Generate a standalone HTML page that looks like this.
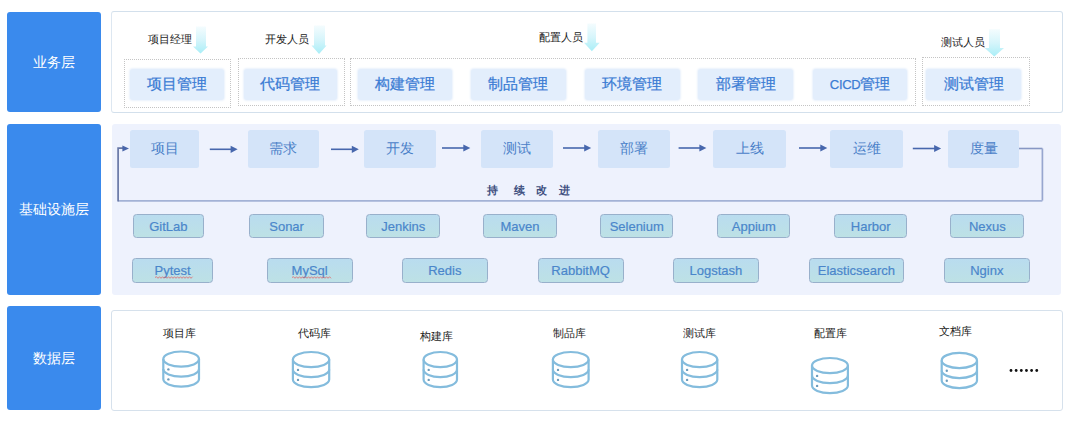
<!DOCTYPE html>
<html><head><meta charset="utf-8"><style>
*{margin:0;padding:0;box-sizing:border-box}
html,body{width:1080px;height:425px;overflow:hidden;background:#fff;font-family:"Liberation Sans", sans-serif}
.layer{position:absolute;left:7px;width:94px;background:#3a8aed;border-radius:3px;color:#fff;font-size:14px;text-align:center}
.p1{position:absolute;left:111px;top:11px;width:952px;height:102px;border:1px solid #d3e0ec;border-left-color:#dde7f1;border-radius:3px;background:#fff}
.p2{position:absolute;left:112px;top:123.5px;width:949px;height:171.5px;background:#eef2fd;border-radius:3px}
.p3{position:absolute;left:111px;top:310px;width:952px;height:101px;border:1px solid #d6e1ec;border-radius:3px;background:#fff}
.dot{position:absolute;border:1px dotted #c4c4c4}
.ib{position:absolute;top:69px;height:30.5px;line-height:30.5px;background:#e3eefc;box-shadow:0 0 2px 1px #eaf2fc;border-radius:3px;color:#3b7cd4;-webkit-text-stroke:0.25px #3b7cd4;font-size:14.5px;text-align:center}
.lab{position:absolute;font-size:11px;line-height:11px;color:#1a1a1a;white-space:nowrap}
.pb{position:absolute;top:129.8px;height:37.8px;line-height:37.8px;background:#d4e4f9;border-radius:2.5px;color:#4a80c8;font-size:14px;text-align:center}
.tb{position:absolute;background:linear-gradient(#b9dcef,#bde1e5);border:1.6px solid #98b0cb;border-radius:3.5px;color:#4a86cb;font-size:13px;-webkit-text-stroke:0.2px #4a86cb;padding-top:1px;text-align:center;display:flex;align-items:center;justify-content:center}
.cx{position:absolute;top:185px;font-size:10.5px;line-height:11px;font-weight:bold;color:#3d4f80}
svg{position:absolute;left:0;top:0}
</style></head><body>
<div class="layer" style="top:12px;height:100.3px;line-height:100.3px">业务层</div>
<div class="layer" style="top:124.3px;height:170.9px;line-height:170.9px">基础设施层</div>
<div class="layer" style="top:305.7px;height:104.5px;line-height:104.5px">数据层</div>
<div class="p1"></div>
<div class="p2"></div>
<div class="p3"></div>
<div class="dot" style="left:124px;top:59px;width:107px;height:49px"></div>
<div class="dot" style="left:238px;top:58px;width:107px;height:48px"></div>
<div class="dot" style="left:350px;top:58px;width:566px;height:48px"></div>
<div class="dot" style="left:922px;top:57px;width:108px;height:49px"></div>
<div class="ib" style="left:130px;width:93.8px">项目管理</div>
<div class="ib" style="left:243.6px;width:93.6px">代码管理</div>
<div class="ib" style="left:358.3px;width:93.9px">构建管理</div>
<div class="ib" style="left:471.1px;width:94.5px">制品管理</div>
<div class="ib" style="left:584.7px;width:95.3px">环境管理</div>
<div class="ib" style="left:697.8px;width:95.5px">部署管理</div>
<div class="ib" style="left:812.8px;width:94.7px"><span style="font-size:13px;letter-spacing:-0.3px">CICD</span>管理</div>
<div class="ib" style="left:926.1px;width:95.0px">测试管理</div>
<div class="lab" style="left:148px;top:34px">项目经理</div>
<div class="lab" style="left:265px;top:34px">开发人员</div>
<div class="lab" style="left:539px;top:32px">配置人员</div>
<div class="lab" style="left:941px;top:37px">测试人员</div>
<div class="pb" style="left:130.2px;width:68.7px">项目</div>
<div class="pb" style="left:248px;width:70.9px">需求</div>
<div class="pb" style="left:364.2px;width:71.6px">开发</div>
<div class="pb" style="left:480.8px;width:72.0px">测试</div>
<div class="pb" style="left:597.8px;width:71.9px">部署</div>
<div class="pb" style="left:713.3px;width:72.8px">上线</div>
<div class="pb" style="left:830px;width:73.3px">运维</div>
<div class="pb" style="left:947.8px;width:71.6px">度量</div>
<div class="lab" style="left:163px;top:327.5px">项目库</div>
<div class="lab" style="left:298px;top:327.5px">代码库</div>
<div class="lab" style="left:420px;top:330.5px">构建库</div>
<div class="lab" style="left:553px;top:327.5px">制品库</div>
<div class="lab" style="left:683px;top:327.5px">测试库</div>
<div class="lab" style="left:814px;top:327.5px">配置库</div>
<div class="lab" style="left:939px;top:325.5px">文档库</div>
<div class="tb" style="left:133.0px;top:214px;width:70.6px;height:24.4px">GitLab</div>
<div class="tb" style="left:249.4px;top:214px;width:74.4px;height:24.4px">Sonar</div>
<div class="tb" style="left:366.3px;top:214px;width:73.9px;height:24.4px">Jenkins</div>
<div class="tb" style="left:483.0px;top:214px;width:73.9px;height:24.4px">Maven</div>
<div class="tb" style="left:600.2px;top:214px;width:73.1px;height:24.4px">Selenium</div>
<div class="tb" style="left:717.2px;top:214px;width:73.3px;height:24.4px">Appium</div>
<div class="tb" style="left:834.0px;top:214px;width:73.4px;height:24.4px">Harbor</div>
<div class="tb" style="left:950.4px;top:214px;width:73.9px;height:24.4px">Nexus</div>
<div class="tb" style="left:131.6px;top:257.5px;width:81.9px;height:25px">Pytest</div>
<div class="tb" style="left:266.6px;top:257.5px;width:86.1px;height:25px">MySql</div>
<div class="tb" style="left:402.0px;top:257.5px;width:85.7px;height:25px">Redis</div>
<div class="tb" style="left:537.5px;top:257.5px;width:86.2px;height:25px">RabbitMQ</div>
<div class="tb" style="left:673.0px;top:257.5px;width:85.7px;height:25px">Logstash</div>
<div class="tb" style="left:808.5px;top:257.5px;width:95.8px;height:25px">Elasticsearch</div>
<div class="tb" style="left:944.0px;top:257.5px;width:85.6px;height:25px">Nginx</div>
<div class="cx" style="left:486.5px">持</div>
<div class="cx" style="left:513.5px">续</div>
<div class="cx" style="left:536px">改</div>
<div class="cx" style="left:559px">进</div>
<svg width="1080" height="425" viewBox="0 0 1080 425"><defs><linearGradient id="cg" x1="0" y1="0" x2="0" y2="1"><stop offset="0" stop-color="#f4fcfe"/><stop offset="0.5" stop-color="#d6f5fb"/><stop offset="1" stop-color="#a9eef7"/></linearGradient></defs><path d="M196 26.6 L206 26.6 L206 46.4 L208 46.4 L200.5 53.4 L193 46.4 L196 46.4 Z" fill="url(#cg)"/><path d="M314 25.6 L325 25.6 L325 45.4 L326.6 45.4 L319.05 53.9 L311.5 45.4 L314 45.4 Z" fill="url(#cg)"/><path d="M587.4 23.5 L596 23.5 L596 42.8 L599.7 42.8 L591.85 51.3 L584 42.8 L587.4 42.8 Z" fill="url(#cg)"/><path d="M989 29.2 L1000 29.2 L1000 48 L1004 48 L994.3 56.5 L984.6 48 L989 48 Z" fill="url(#cg)"/><line x1="209.8" y1="149.3" x2="231.6" y2="149.3" stroke="#4767ad" stroke-width="1.6"/><path d="M230.6 145.70000000000002 L237.6 149.3 L230.6 152.9 Z" fill="#4767ad"/><line x1="331" y1="149.3" x2="352.8" y2="149.3" stroke="#4767ad" stroke-width="1.6"/><path d="M351.8 145.70000000000002 L358.8 149.3 L351.8 152.9 Z" fill="#4767ad"/><line x1="442" y1="148" x2="464.3" y2="148" stroke="#4767ad" stroke-width="1.6"/><path d="M463.3 144.4 L470.3 148 L463.3 151.6 Z" fill="#4767ad"/><line x1="563" y1="148" x2="585.2" y2="148" stroke="#4767ad" stroke-width="1.6"/><path d="M584.2 144.4 L591.2 148 L584.2 151.6 Z" fill="#4767ad"/><line x1="678.6" y1="148" x2="700.4" y2="148" stroke="#4767ad" stroke-width="1.6"/><path d="M699.4 144.4 L706.4 148 L699.4 151.6 Z" fill="#4767ad"/><line x1="799" y1="148" x2="821.3" y2="148" stroke="#4767ad" stroke-width="1.6"/><path d="M820.3 144.4 L827.3 148 L820.3 151.6 Z" fill="#4767ad"/><line x1="912.8" y1="148.5" x2="935.1" y2="148.5" stroke="#4767ad" stroke-width="1.6"/><path d="M934.1 144.9 L941.1 148.5 L934.1 152.1 Z" fill="#4767ad"/><path d="M1019 148.5 H1042.4" fill="none" stroke="#8797c4" stroke-width="1.6"/><path d="M1042.4 148.5 V200.6" fill="none" stroke="#97a6cf" stroke-width="1.7"/><path d="M1042.4 200.8 H118.3" fill="none" stroke="#a3b2d6" stroke-width="1.7"/><path d="M118.1 201.6 V148.2 H124" fill="none" stroke="#6878a6" stroke-width="1.7"/><path d="M122.4 145.4 L129 148.4 L122.4 151.4 Z" fill="#4a66aa"/><g fill="none" stroke="#84bcdd" stroke-width="2.2"><ellipse cx="181.14999999999998" cy="359.1" rx="17.849999999999998" ry="7.6"/><path d="M163.29999999999998 359.1 V379.1 A17.849999999999998 7.6 0 0 0 198.99999999999997 379.1 V359.1"/><path d="M163.29999999999998 369.1 A17.849999999999998 7.6 0 0 0 198.99999999999997 369.1"/></g><circle cx="168.4" cy="369.40000000000003" r="1.2" fill="#6d9cbc"/><circle cx="168.4" cy="379.40000000000003" r="1.2" fill="#6d9cbc"/><g fill="none" stroke="#84bcdd" stroke-width="2.2"><ellipse cx="311.04999999999995" cy="359.6" rx="18.149999999999995" ry="7.6"/><path d="M292.9 359.6 V379.6 A18.149999999999995 7.6 0 0 0 329.19999999999993 379.6 V359.6"/><path d="M292.9 369.6 A18.149999999999995 7.6 0 0 0 329.19999999999993 369.6"/></g><circle cx="298.0" cy="369.90000000000003" r="1.2" fill="#6d9cbc"/><circle cx="298.0" cy="379.90000000000003" r="1.2" fill="#6d9cbc"/><g fill="none" stroke="#84bcdd" stroke-width="2.2"><ellipse cx="440.29999999999995" cy="359.6" rx="16.700000000000006" ry="7.6"/><path d="M423.59999999999997 359.6 V379.6 A16.700000000000006 7.6 0 0 0 456.99999999999994 379.6 V359.6"/><path d="M423.59999999999997 369.6 A16.700000000000006 7.6 0 0 0 456.99999999999994 369.6"/></g><circle cx="428.7" cy="369.90000000000003" r="1.2" fill="#6d9cbc"/><circle cx="428.7" cy="379.90000000000003" r="1.2" fill="#6d9cbc"/><g fill="none" stroke="#84bcdd" stroke-width="2.2"><ellipse cx="570.75" cy="359.6" rx="17.849999999999955" ry="7.6"/><path d="M552.9000000000001 359.6 V379.6 A17.849999999999955 7.6 0 0 0 588.5999999999999 379.6 V359.6"/><path d="M552.9000000000001 369.6 A17.849999999999955 7.6 0 0 0 588.5999999999999 369.6"/></g><circle cx="558.0" cy="369.90000000000003" r="1.2" fill="#6d9cbc"/><circle cx="558.0" cy="379.90000000000003" r="1.2" fill="#6d9cbc"/><g fill="none" stroke="#84bcdd" stroke-width="2.2"><ellipse cx="699.65" cy="359.6" rx="17.650000000000023" ry="7.6"/><path d="M682.0 359.6 V379.6 A17.650000000000023 7.6 0 0 0 717.3 379.6 V359.6"/><path d="M682.0 369.6 A17.650000000000023 7.6 0 0 0 717.3 369.6"/></g><circle cx="687.0999999999999" cy="369.90000000000003" r="1.2" fill="#6d9cbc"/><circle cx="687.0999999999999" cy="379.90000000000003" r="1.2" fill="#6d9cbc"/><g fill="none" stroke="#84bcdd" stroke-width="2.2"><ellipse cx="829.95" cy="365.6" rx="17.950000000000035" ry="7.6"/><path d="M812.0 365.6 V385.6 A17.950000000000035 7.6 0 0 0 847.9000000000001 385.6 V365.6"/><path d="M812.0 375.6 A17.950000000000035 7.6 0 0 0 847.9000000000001 375.6"/></g><circle cx="817.0999999999999" cy="375.90000000000003" r="1.2" fill="#6d9cbc"/><circle cx="817.0999999999999" cy="385.90000000000003" r="1.2" fill="#6d9cbc"/><g fill="none" stroke="#84bcdd" stroke-width="2.2"><ellipse cx="959.35" cy="360.5" rx="17.650000000000023" ry="7.6"/><path d="M941.7 360.5 V380.5 A17.650000000000023 7.6 0 0 0 977.0 380.5 V360.5"/><path d="M941.7 370.5 A17.650000000000023 7.6 0 0 0 977.0 370.5"/></g><circle cx="946.8" cy="370.8" r="1.2" fill="#6d9cbc"/><circle cx="946.8" cy="380.8" r="1.2" fill="#6d9cbc"/><circle cx="1011.0" cy="370.5" r="1.4" fill="#111"/><circle cx="1016.15" cy="370.5" r="1.4" fill="#111"/><circle cx="1021.3" cy="370.5" r="1.4" fill="#111"/><circle cx="1026.45" cy="370.5" r="1.4" fill="#111"/><circle cx="1031.6" cy="370.5" r="1.4" fill="#111"/><circle cx="1036.75" cy="370.5" r="1.4" fill="#111"/><path d="M155 277.5 L156.5 276.7 L158.0 278.3 L159.5 276.7 L161.0 278.3 L162.5 276.7 L164.0 278.3 L165.5 276.7 L167.0 278.3 L168.5 276.7 L170.0 278.3 L171.5 276.7 L173.0 278.3 L174.5 276.7 L176.0 278.3 L177.5 276.7 L179.0 278.3 L180.5 276.7 L182.0 278.3 L183.5 276.7 L185.0 278.3 L186.5 276.7 L188.0 278.3 L189.5 276.7 L191.0 278.3 L192.5 276.7" fill="none" stroke="#e06a6a" stroke-width="0.8"/><path d="M292 277.5 L293.5 276.7 L295.0 278.3 L296.5 276.7 L298.0 278.3 L299.5 276.7 L301.0 278.3 L302.5 276.7 L304.0 278.3 L305.5 276.7 L307.0 278.3 L308.5 276.7 L310.0 278.3 L311.5 276.7 L313.0 278.3 L314.5 276.7 L316.0 278.3 L317.5 276.7 L319.0 278.3 L320.5 276.7 L322.0 278.3 L323.5 276.7 L325.0 278.3 L326.5 276.7 L328.0 278.3 L329.5 276.7 L331.0 278.3" fill="none" stroke="#e06a6a" stroke-width="0.8"/></svg>
</body></html>
